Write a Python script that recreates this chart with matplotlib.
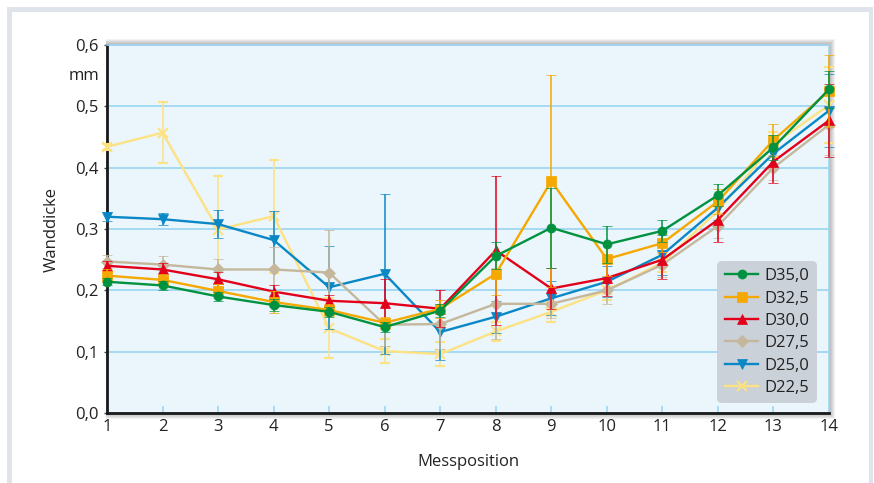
import matplotlib
matplotlib.use("Agg")
import matplotlib.pyplot as plt
from matplotlib.patches import Rectangle

# data
positions = list(range(1, 15))

d350 = [0.214, 0.208, 0.190, 0.176, 0.165, 0.140, 0.167, 0.256, 0.302, 0.275, 0.297, 0.355, 0.433, 0.528]
d350_err = [0.006, 0.008, 0.008, 0.010, 0.008, 0.008, 0.010, 0.022, 0.065, 0.030, 0.018, 0.018, 0.020, 0.030]

d325 = [0.224, 0.217, 0.199, 0.181, 0.168, 0.147, 0.170, 0.227, 0.378, 0.251, 0.277, 0.345, 0.445, 0.525]
d325_err = [0.010, 0.010, 0.012, 0.018, 0.010, 0.010, 0.015, 0.035, 0.173, 0.027, 0.015, 0.020, 0.027, 0.058]

d300 = [0.240, 0.234, 0.218, 0.198, 0.183, 0.179, 0.170, 0.265, 0.203, 0.220, 0.250, 0.315, 0.410, 0.477]
d300_err = [0.008, 0.010, 0.012, 0.010, 0.010, 0.040, 0.030, 0.122, 0.034, 0.030, 0.032, 0.036, 0.035, 0.060]

d275 = [0.247, 0.242, 0.234, 0.234, 0.229, 0.144, 0.145, 0.178, 0.178, 0.200, 0.242, 0.305, 0.400, 0.470]
d275_err = [0.011, 0.014, 0.017, 0.037, 0.070, 0.035, 0.040, 0.058, 0.023, 0.023, 0.020, 0.020, 0.020, 0.050]

d250 = [0.320, 0.316, 0.308, 0.282, 0.205, 0.227, 0.132, 0.157, 0.187, 0.214, 0.258, 0.335, 0.423, 0.493]
d250_err = [0.007, 0.010, 0.023, 0.048, 0.068, 0.130, 0.046, 0.026, 0.028, 0.025, 0.033, 0.020, 0.020, 0.060]

d225 = [0.434, 0.457, 0.299, 0.321, 0.138, 0.101, 0.096, 0.133, 0.165, 0.200, 0.245, 0.330, 0.438, 0.502]
d225_err = [0.005, 0.050, 0.088, 0.092, 0.049, 0.020, 0.020, 0.015, 0.016, 0.015, 0.015, 0.015, 0.020, 0.062]

series_names = ["D35,0", "D32,5", "D30,0", "D27,5", "D25,0", "D22,5"]
y_ticks = [0.0, 0.1, 0.2, 0.3, 0.4, 0.5, 0.6]
y_tick_labels = ["0,0", "0,1", "0,2", "0,3", "0,4", "0,5", "0,6"]

W, H = 874, 483


def px(x, y):
    # pixel (top-left origin) -> figure fraction
    return x / W, 1 - y / H


def main():
    plt.rcParams['font.family'] = ['Open Sans', 'DejaVu Sans']
    fig = plt.figure(figsize=(W / 100, H / 100), dpi=100)
    fig.patch.set_facecolor("white")

    # outer grey frame (open at the bottom)
    frame_col = "#dfe4ea"
    for (x0, y0, w, h) in [(7, 7, 866, 5), (7, 7, 5, 476), (869, 7, 4, 476)]:
        fx, fy = px(x0, y0 + h)
        fig.patches.append(Rectangle((fx, fy), w / W, h / H, transform=fig.transFigure,
                                     color=frame_col, lw=0, zorder=-5))

    left, right, top, bottom = 107, 829, 45, 413
    ax = fig.add_axes([left / W, 1 - bottom / H, (right - left) / W, (bottom - top) / H])

    # soft shadow around the plot area
    for k in range(1, 7):
        fx, fy = px(left - 1, bottom + k)
        fig.patches.append(Rectangle((fx, fy), (right - left + 1 + k) / W, (bottom - top + 2 * k) / H,
                                     transform=fig.transFigure, color="#000000",
                                     alpha=0.05, lw=0, zorder=-1))

    ax.set_facecolor("#eaf5fc")

    colors = ["#00923f", "#f5a800", "#e3001b", "#c5b79c", "#0a88c6", "#fde283"]
    markers = ["o", "s", "^", "D", "v", "x"]
    sizes = [6.5, 6.5, 7, 6, 7, 7]
    values = [d350, d325, d300, d275, d250, d225]
    errors = [d350_err, d325_err, d300_err, d275_err, d250_err, d225_err]

    handles = []
    for i in range(5, -1, -1):
        h = ax.errorbar(positions, values[i], yerr=errors[i], color=colors[i], marker=markers[i],
                        ms=sizes[i], mew=1.5 if markers[i] == "x" else 0.5, lw=1.7,
                        elinewidth=1.1, capsize=3.5, capthick=1.7,
                        zorder=3 + (5 - i), clip_on=False)
        handles.append(h[0])
    handles = handles[::-1]

    ax.set_xlim(1, 14)
    ax.set_ylim(0, 0.6)
    ax.set_xticks(positions)
    ax.set_yticks(y_ticks)
    ax.set_yticklabels(y_tick_labels)
    ax.grid(axis="y", color="#9fd6f2", lw=1.3)
    ax.set_axisbelow(True)

    for side in ["left", "bottom"]:
        ax.spines[side].set_color("#1a1a1a")
        ax.spines[side].set_linewidth(2)
    for side in ["top", "right"]:
        ax.spines[side].set_color("#9fd6f2")
        ax.spines[side].set_linewidth(1.2)

    ax.tick_params(axis="x", direction="in", color="#9fd6f2", length=5, width=1.2,
                   labelsize=12, labelcolor="#222222", pad=4)
    ax.tick_params(axis="y", direction="out", color="#444444", length=2, width=1,
                   labelsize=12, labelcolor="#222222", pad=4)

    ax.text(-0.011, 0.549, "mm", transform=ax.get_yaxis_transform(), ha="right", va="center",
            fontsize=12, color="#222222")
    ax.set_ylabel("Wanddicke", fontsize=12, color="#222222", labelpad=11)
    ax.set_xlabel("Messposition", fontsize=12, color="#222222", labelpad=14)

    leg = ax.legend(handles, series_names, loc="lower right", bbox_to_anchor=(0.9875, 0.017),
                    fontsize=12, frameon=True, fancybox=True, facecolor="#cad1d9",
                    edgecolor="none", framealpha=1, handlelength=2.0, handletextpad=0.35,
                    labelspacing=0.38, borderpad=0.45, borderaxespad=0.2)
    leg.get_frame().set_boxstyle("round", pad=0.0, rounding_size=0.3)
    for t in leg.get_texts():
        t.set_color("#222222")

    fig.savefig("out.png", dpi=100)


if __name__ == "__main__":
    main()
